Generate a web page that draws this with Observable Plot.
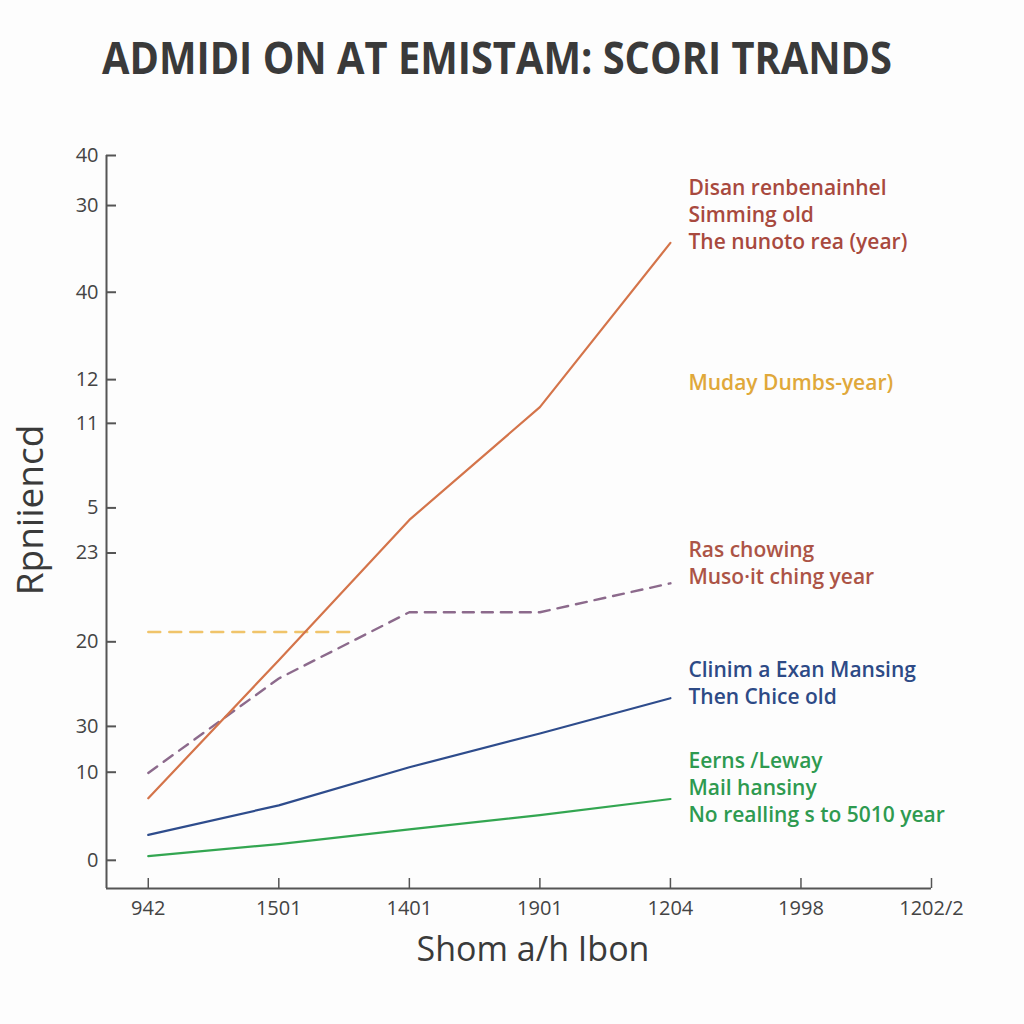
<!DOCTYPE html>
<html><head><meta charset="utf-8">
<script src="https://cdn.jsdelivr.net/npm/d3@7"></script>
<script src="https://cdn.jsdelivr.net/npm/@observablehq/plot@0.6"></script>
<style>
body{margin:0;background:#fdfdfd;width:1024px;height:1024px;overflow:hidden;font-family:"Open Sans",sans-serif;}
#title{height:110px;position:relative;}
#title span{position:absolute;left:497px;top:57px;transform-origin:center;white-space:nowrap;font-size:44px;font-weight:700;color:#3a3a3a;line-height:1;}
#chart{height:914px;}
</style></head><body>
<div id="title"><span>ADMIDI ON AT EMISTAM: SCORI TRANDS</span></div>
<div id="chart"></div>
<script>
// ---- data ----
const titleText = "ADMIDI ON AT EMISTAM: SCORI TRANDS";
const xLabel = "Shom a/h Ibon";
const yLabel = "Rpniiencd";
const xTickLabels = ["942", "1501", "1401", "1901", "1204", "1998", "1202/2"];
const xTickIdx = [0, 1, 2, 3, 4, 5, 6];
const yTickValues = [100, 92.9, 80.6, 68.2, 62.0, 50.0, 43.6, 31.0, 19.0, 12.5, 0];
const yTickLabels = ["40", "30", "40", "12", "11", "5", "23", "20", "30", "10", "0"];

const seriesX = [0, 1, 2, 3, 4];
const orangeVals = [8.8, 28.4, 48.3, 64.3, 87.6];
const purpleVals = [12.4, 25.8, 35.2, 35.2, 39.3];
const blueVals = [3.6, 7.8, 13.2, 18.0, 23.0];
const greenVals = [0.6, 2.3, 4.4, 6.4, 8.7];
const yellowX = [0, 1.56];
const yellowVals = [32.4, 32.4];

const noteTexts = [
  "Disan renbenainhel\nSimming old\nThe nunoto rea (year)",
  "Muday Dumbs-year)",
  "Ras chowing\nMuso·it ching year",
  "Clinim a Exan Mansing\nThen Chice old",
  "Eerns /Leway\nMail hansiny\nNo realling s to 5010 year"
];
const noteY = [91.8, 67.9, 42.4, 25.3, 10.5];
const noteX = [4, 4, 4, 4, 4];
const noteColors = ["#a8493e", "#e0a83a", "#ac5446", "#2d4a86", "#2e9a50"];

// ---- scales ----
const X_DOMAIN = [-0.32, 6];
const Y_DOMAIN = [-4, 100];
const yLabelOf = new Map(yTickValues.map((v, i) => [v, yTickLabels[i]]));

const toRows = (xs, ys) => xs.map((x, i) => ({x, y: ys[i]}));
const notes = noteTexts.map((t, i) => ({t, x: noteX[i], y: noteY[i], c: noteColors[i]}));

const plot = Plot.plot({
  width: 1024, height: 914,
  marginLeft: 106, marginRight: 93, marginTop: 45, marginBottom: 136,
  style: {background: "transparent", fontFamily: "Open Sans", color: "#444", overflow: "visible"},
  x: {domain: X_DOMAIN, axis: null},
  y: {domain: Y_DOMAIN, axis: null},
  marks: [
    Plot.ruleX([X_DOMAIN[0]], {y1: Y_DOMAIN[0], y2: Y_DOMAIN[1], stroke: "#555", strokeWidth: 2}),
    Plot.ruleY([Y_DOMAIN[0]], {x1: X_DOMAIN[0], x2: X_DOMAIN[1], stroke: "#555", strokeWidth: 2}),
    Plot.axisY(yTickValues, {label: null, tickSize: 10, tickFormat: () => "", stroke: "#555", strokeWidth: 2}),
    Plot.axisY(yTickValues, {label: null, tickSize: 0, tickPadding: 8, tickFormat: d => yLabelOf.get(d), fontSize: 20, fill: "#444"}),
    Plot.axisX(xTickIdx, {label: null, tickSize: 10, tickFormat: () => "", stroke: "#555", strokeWidth: 1.5}),
    Plot.axisX(xTickIdx, {label: null, tickSize: 0, tickPadding: 12, tickFormat: i => xTickLabels[i], fontSize: 20, fill: "#444"}),
    Plot.line(toRows(yellowX, yellowVals), {x: "x", y: "y", stroke: "#f0c46a", strokeWidth: 2.4, strokeDasharray: "12,9"}),
    Plot.line(toRows(seriesX, purpleVals), {x: "x", y: "y", stroke: "#8c6a8c", strokeWidth: 2.4, strokeDasharray: "11,8"}),
    Plot.line(toRows(seriesX, orangeVals), {x: "x", y: "y", stroke: "#d4744a", strokeWidth: 2.2}),
    Plot.line(toRows(seriesX, blueVals), {x: "x", y: "y", stroke: "#2e4c8c", strokeWidth: 2.2}),
    Plot.line(toRows(seriesX, greenVals), {x: "x", y: "y", stroke: "#33a651", strokeWidth: 2.2}),
    Plot.text(notes, {x: "x", y: "y", text: "t", fill: "c", dx: 18, textAnchor: "start", lineAnchor: "middle", fontSize: 21, lineHeight: 1.29, fontWeight: 600}),
    Plot.text([xLabel], {frameAnchor: "bottom", dx: 14, dy: 72, fontSize: 34, fill: "#3a3a3a"}),
    Plot.text([yLabel], {frameAnchor: "left", textAnchor: "middle", dx: -75, dy: -12, rotate: -90, fontSize: 37, fill: "#3a3a3a"})
  ]
});
document.getElementById("chart").appendChild(plot);

// ticks point inward
d3.select(plot).selectAll('g[aria-label="y-axis tick"] path, g[aria-label="x-axis tick"] path')
  .attr("d", function() { return (this.getAttribute("d") || "").replace(/-?\d*\.?\d+(e-?\d+)?/g, v => String(-parseFloat(v))); });

const span = document.querySelector("#title span");
const w = span.offsetWidth;
span.style.transform = `translate(-50%,-50%) scaleX(${790 / w})`;
</script>
</body></html>
